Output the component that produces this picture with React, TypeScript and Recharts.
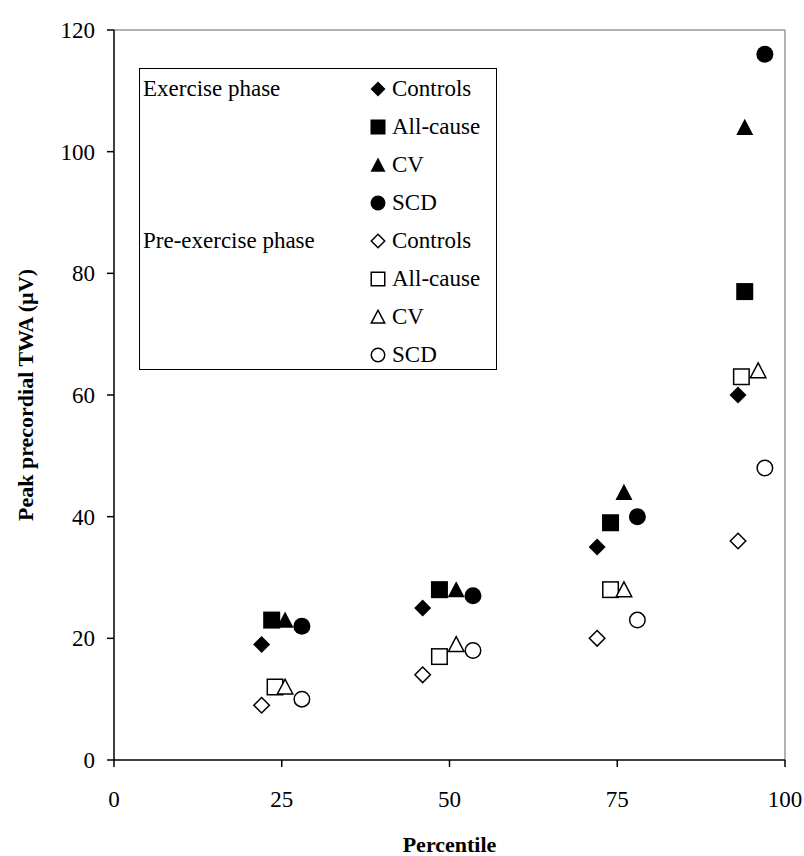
import React from 'react';
import { ScatterChart, Scatter, XAxis, YAxis, ReferenceLine } from 'recharts';

// percentile positions (slightly offset per group, as in the original figure)
const exControlsX = [22, 46, 72, 93];
const exControlsY = [19, 25, 35, 60];
const exAllCauseX = [23.5, 48.5, 74, 94];
const exAllCauseY = [23, 28, 39, 77];
const exCvX = [25.5, 51, 76, 94];
const exCvY = [23, 28, 44, 104];
const exScdX = [28, 53.5, 78, 97];
const exScdY = [22, 27, 40, 116];

const preControlsX = [22, 46, 72, 93];
const preControlsY = [9, 14, 20, 36];
const preAllCauseX = [24, 48.5, 74, 93.5];
const preAllCauseY = [12, 17, 28, 63];
const preCvX = [25.5, 51, 76, 96];
const preCvY = [12, 19, 28, 64];
const preScdX = [28, 53.5, 78, 97];
const preScdY = [10, 18, 23, 48];

const xTicks = [0, 25, 50, 75, 100];
const yTicks = [0, 20, 40, 60, 80, 100, 120];

const FONT = "'Liberation Serif', 'Times New Roman', 'DejaVu Serif', serif";

type Kind = 'diamond' | 'square' | 'triangle' | 'circle';

const toPoints = (xs: number[], ys: number[]) => xs.map((x, i) => ({ x, y: ys[i] }));

const Marker = ({ cx, cy, kind, filled, size }: { cx: number; cy: number; kind: Kind; filled: boolean; size: number }) => {
    const h = filled ? size / 2 : size / 2 - 0.75;
    const fill = filled ? '#000' : '#fff';
    const stroke = filled ? 'none' : '#000';
    const sw = 1.5;
    if (kind === 'diamond') {
        return <polygon points={`${cx},${cy - h} ${cx + h},${cy} ${cx},${cy + h} ${cx - h},${cy}`} fill={fill} stroke={stroke} strokeWidth={sw} />;
    }
    if (kind === 'square') {
        return <rect x={cx - h} y={cy - h} width={2 * h} height={2 * h} fill={fill} stroke={stroke} strokeWidth={sw} />;
    }
    if (kind === 'triangle') {
        return <polygon points={`${cx},${cy - h} ${cx + h},${cy + h * 0.9} ${cx - h},${cy + h * 0.9}`} fill={fill} stroke={stroke} strokeWidth={sw} />;
    }
    return <circle cx={cx} cy={cy} r={h} fill={fill} stroke={stroke} strokeWidth={sw} />;
};

const shape = (kind: Kind, filled: boolean) => (props: any) => (
    <Marker cx={props.cx} cy={props.cy} kind={kind} filled={filled} size={17} />
);

const series = [
    { name: 'ex-controls', data: toPoints(exControlsX, exControlsY), kind: 'diamond' as Kind, filled: true },
    { name: 'ex-allcause', data: toPoints(exAllCauseX, exAllCauseY), kind: 'square' as Kind, filled: true },
    { name: 'ex-cv', data: toPoints(exCvX, exCvY), kind: 'triangle' as Kind, filled: true },
    { name: 'ex-scd', data: toPoints(exScdX, exScdY), kind: 'circle' as Kind, filled: true },
    { name: 'pre-controls', data: toPoints(preControlsX, preControlsY), kind: 'diamond' as Kind, filled: false },
    { name: 'pre-allcause', data: toPoints(preAllCauseX, preAllCauseY), kind: 'square' as Kind, filled: false },
    { name: 'pre-cv', data: toPoints(preCvX, preCvY), kind: 'triangle' as Kind, filled: false },
    { name: 'pre-scd', data: toPoints(preScdX, preScdY), kind: 'circle' as Kind, filled: false },
];

const legendRows = [
    { group: 'Exercise phase', label: 'Controls', kind: 'diamond' as Kind, filled: true },
    { group: '', label: 'All-cause', kind: 'square' as Kind, filled: true },
    { group: '', label: 'CV', kind: 'triangle' as Kind, filled: true },
    { group: '', label: 'SCD', kind: 'circle' as Kind, filled: true },
    { group: 'Pre-exercise phase', label: 'Controls', kind: 'diamond' as Kind, filled: false },
    { group: '', label: 'All-cause', kind: 'square' as Kind, filled: false },
    { group: '', label: 'CV', kind: 'triangle' as Kind, filled: false },
    { group: '', label: 'SCD', kind: 'circle' as Kind, filled: false },
];

const LegendBox = () => (
    <div style={{
        position: 'absolute', left: 139, top: 68, width: 358, height: 302, boxSizing: 'border-box',
        border: '1.5px solid #000', background: '#fff', fontFamily: FONT, fontSize: 23, color: '#000',
    }}>
        {legendRows.map((r, i) => {
            const top = 21.5 + i * 38 - 12 - 1.5;
            return (
                <React.Fragment key={i}>
                    {r.group && <div style={{ position: 'absolute', left: 3, top, lineHeight: '24px', whiteSpace: 'nowrap' }}>{r.group}</div>}
                    <svg width={18} height={18} style={{ position: 'absolute', left: 229, top: top + 3 }}>
                        <Marker cx={9} cy={9} kind={r.kind} filled={r.filled} size={15} />
                    </svg>
                    <div style={{ position: 'absolute', left: 252, top, lineHeight: '24px', whiteSpace: 'nowrap' }}>{r.label}</div>
                </React.Fragment>
            );
        })}
    </div>
);

const XTick = (props: any) => (
    <text x={props.x} y={props.y + 32} textAnchor="middle" fontFamily={FONT} fontSize={23} fill="#000">
        {props.payload.value}
    </text>
);

const YTick = (props: any) => (
    <text x={props.x} y={props.y + 8} textAnchor="end" fontFamily={FONT} fontSize={23} fill="#000">
        {props.payload.value}
    </text>
);

export default function App() {
    return (
        <div style={{ position: 'absolute', left: 0, top: 0, width: 804, height: 856, background: '#fff' }}>
            <ScatterChart width={804} height={856} margin={{ top: 30, right: 19, bottom: 0, left: 0 }}>
                <XAxis
                    type="number" dataKey="x" domain={[0, 100]} ticks={xTicks} height={96}
                    tickSize={7} tickMargin={8} tick={<XTick />}
                    axisLine={{ stroke: '#000', strokeWidth: 1.5 }} tickLine={{ stroke: '#000', strokeWidth: 1.5 }}
                    label={{
                        content: (p: any) => {
                            const vb = p.viewBox || { x: 114, y: 760, width: 671, height: 96 };
                            return (
                                <text x={vb.x + vb.width / 2} y={852} textAnchor="middle" fontFamily={FONT} fontSize={22} fontWeight="bold" fill="#000">
                                    Percentile
                                </text>
                            );
                        },
                    }}
                />
                <YAxis
                    type="number" dataKey="y" domain={[0, 120]} ticks={yTicks} width={114}
                    tickSize={7} tickMargin={12} tick={<YTick />}
                    axisLine={{ stroke: '#000', strokeWidth: 1.5 }} tickLine={{ stroke: '#000', strokeWidth: 1.5 }}
                    label={{
                        content: (p: any) => {
                            const vb = p.viewBox || { x: 0, y: 30, width: 114, height: 730 };
                            const cy = vb.y + vb.height / 2;
                            return (
                                <text x={33} y={cy} transform={`rotate(-90 33 ${cy})`} textAnchor="middle" fontFamily={FONT} fontSize={22} fontWeight="bold" fill="#000">
                                    Peak precordial TWA (µV)
                                </text>
                            );
                        },
                    }}
                />
                <ReferenceLine y={120} stroke="#999" strokeWidth={1.5} />
                <ReferenceLine x={100} stroke="#999" strokeWidth={1.5} />
                {series.map(s => (
                    <Scatter key={s.name} name={s.name} data={s.data} shape={shape(s.kind, s.filled)} isAnimationActive={false} />
                ))}
            </ScatterChart>
            <LegendBox />
        </div>
    );
}
